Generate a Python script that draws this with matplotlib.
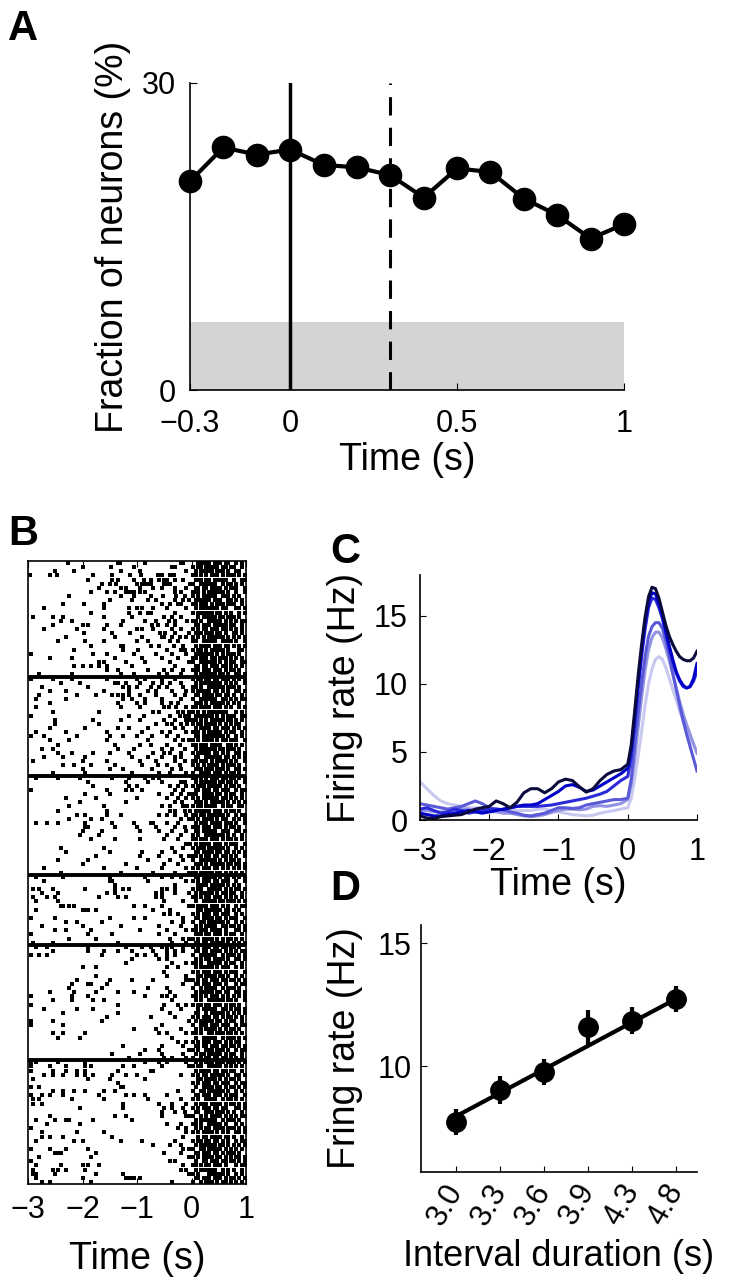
import matplotlib
matplotlib.use("Agg")
import matplotlib.pyplot as plt
import numpy as np

plt.rcParams['font.family'] = ['Liberation Sans', 'DejaVu Sans']
plt.rcParams['xtick.direction'] = 'in'
plt.rcParams['ytick.direction'] = 'in'
plt.rcParams['axes.linewidth'] = 1.2

# ---------------- data ----------------
# A: fraction of neurons over time
a_time = [-0.3, -0.2, -0.1, 0.0, 0.1, 0.2, 0.3, 0.4, 0.5, 0.6, 0.7, 0.8, 0.9, 1.0]
a_frac = [20.4, 23.7, 23.0, 23.5, 22.0, 21.75, 21.0, 18.8, 21.65, 21.3, 18.7, 17.1, 14.8, 16.2]
a_chance = 6.6

# B: raster, one string per trial: "spike times before 0 | 50 ms bins from 0 to 1 s"
block1 = [
    "-2.27 -1.35 -1.31 -0.85 -0.19 -0.15|..###|##.##|#.##.|.#.#.",
    "-2.0 -1.48 -1.05 -0.35 -0.3|#.##.|#####|.##.#|#..#.",
    "-2.5 -2.15 -1.3 -0.95 -0.1|.#.##|###.#|##.#.|.##..",
    "-2.96 -2.6 -2.47 -1.81 -1.46 -1.12 -0.93 -0.62 -0.55 -0.4 -0.32|##.#.|#.###|.#.##|#.#.#",
    "-1.9 -1.45 -1.35 -1.05 -0.88 -0.75 -0.6 -0.5 -0.45 -0.3 -0.15|.###.|##.##|###..|#..##",
    "-1.64 -1.49 -1.38 -1.0 -0.9 -0.85 -0.8 -0.75 -0.5 -0.45 -0.4 -0.02|#..##|####.|.#.##|.#.#.",
    "-1.7 -1.3 -1.2 -0.95 -0.7 -0.55 -0.3 -0.1|.##.#|#.###|#.#.#|##..#",
    "-1.85 -1.55 -1.4 -1.2 -1.15 -1.1 -1.05 -0.95 -0.85 -0.3 -0.2|###.#|.####|##.#.|.#..#",
    "-2.25 -1.3 -1.05 -0.75 -0.52 -0.28 -0.12|#.#.#|####.|.###.|#.#..",
    "-1.5 -1.1 -0.8 -0.65 -0.3 -0.15 -0.05|.####|##.##|#..##|.#.#.",
    "-2.35 -1.98 -1.6 -0.55 -0.4 -0.25 -0.2|##.##|#.#.#|##.##|#..#.",
    "-2.7 -1.6 -1.15 -1.0 -0.9 -0.7 -0.45 -0.1|.#.##|#####|.##..|.##.#",
    "-1.85 -1.15 -0.95 -0.8 -0.75 -0.3|#.###|###.#|#.#.#|..#.#",
    "-2.9 -2.55 -2.35 -1.6 -1.1 -0.5 -0.35 -0.2|..#.#|####.|##.##|#.#..",
    "-2.4 -2.2 -1.25 -0.85 -0.65 -0.42 -0.3 -0.08|##.#.|.####|#.#.#|.#.##",
    "-2.55 -2.0 -1.9 -1.55 -1.3 -0.72 -0.62 -0.45 -0.3|.##.#|##.##|###.#|#..#.",
    "-2.7 -2.1 -1.6 -1.0 -0.9 -0.7 -0.35 -0.2|#.#.#|#.###|.##.#|.#.#.",
    "-1.98 -1.45 -1.12 -0.58 -0.48 -0.3 -0.05|.###.|###.#|#.#..|##.#.",
    "-2.3 -1.4 -0.9 -0.55 -0.5 -0.35 -0.22 -0.1|#.#.#|.####|##.#.|#.#.#",
    "-2.45 -1.95 -1.6 -1.0 -0.8 -0.4 -0.25|##..#|####.|.####|.#..#",
    "-1.85 -1.3 -1.25 -0.75 -0.6 -0.32 -0.15|.#.##|##.##|#.##.|#.#.#",
    "-2.15 -1.25 -0.98 -0.45 -0.2 -0.12|#.##.|#.###|##.#.|..##.",
    "-2.95 -1.8 -1.55 -1.05 -0.65 -0.35 -0.1|.####|###.#|.#.##|#.#..",
    "-2.6 -2.2 -1.4 -0.9 -0.55 -0.25|##.##|#.##.|###.#|.#.#.",
    "-1.7 -1.6 -1.2 -0.85 -0.4 -0.05|#..##|####.|#.#.#|#..##",
    "-2.15 -2.0 -1.85 -1.7 -1.55 -1.1 -0.3|.##.#|#.###|.##.#|.#.#.",
    "-1.55 -1.35 -0.8 -0.5 -0.35 -0.15|###.#|##.##|#.#.#|#.#..",
    "-2.8 -2.2 -1.3 -1.05 -0.6 -0.45 -0.2|.#.##|####.|##.#.|.##.#",
]
block2 = [
    "-2.95 -2.55 -2.2 -1.55 -1.0 -0.85 -0.55 -0.3|#.##.|##.##|.###.|#.#.#",
    "-2.4 -2.05 -1.4 -1.35 -1.2 -0.95 -0.7 -0.55 -0.4 -0.2|.#.##|#####|#.#.#|.#..#",
    "-2.75 -1.9 -1.25 -1.15 -1.0 -0.75 -0.6 -0.45 -0.15|##.#.|.####|##.##|#.#..",
    "-2.6 -2.3 -1.6 -1.15 -0.8 -0.65 -0.35 -0.1|#.###|##.##|.#.#.|.##.#",
    "-2.8 -2.1 -1.75 -1.45 -1.35 -1.25 -1.15 -0.95 -0.65 -0.3 -0.12|.##.#|###.#|#.##.|#..#.",
    "-2.85 -2.3 -1.25 -1.1 -0.85 -0.55 -0.2|#..##|####.|.##.#|.#.##",
    "-2.6 -1.35 -1.0 -0.85 -0.55 -0.38 -0.25|.###.|#.###|##.#.|#.#..",
    "-2.85 -1.3 -0.95 -0.5 -0.42 -0.28 -0.1|##.##|##.##|#.#.#|..#.#",
    "-2.55 -1.7 -0.7 -0.6 -0.25 -0.15 -0.05|#.#.#|.####|###..|.#.#.",
    "-2.95 -1.15 -0.88 -0.4 -0.22 -0.12 -0.04|.####|###.#|.#.##|#..##",
    "-2.5 -1.8 -1.3 -0.95 -0.5 -0.3 -0.1 -0.02|##.#.|#.###|##.##|.#.#.",
    "-2.5 -1.7 -0.65 -0.45 -0.35 -0.2 -0.08|#.##.|####.|#.#.#|.##..",
    "-2.6 -1.95 -1.35 -1.15 -0.8 -0.3 -0.15|.#.##|##.##|.###.|#.#.#",
    "-2.85 -2.3 -1.55 -0.9 -0.55 -0.4 -0.1|###.#|.####|#.#.#|#..#.",
    "-2.95 -2.7 -2.1 -1.5 -1.25 -1.0 -0.72 -0.45 -0.25|.##.#|#####|##.#.|.#.#.",
    "-2.6 -2.25 -1.55 -0.8 -0.3 -0.15 -0.05|#.#.#|###.#|.##.#|##..#",
    "-2.45 -1.4 -0.95 -0.75 -0.45 -0.22|##.##|#.###|#..##|.#.#.",
    "-2.75 -2.55 -1.35 -1.05 -0.55 -0.35 -0.12|.#.##|####.|##.##|#.#..",
    "-2.45 -2.2 -1.8 -1.5 -1.15 -0.7 -0.5 -0.4 -0.2|#.###|##.##|.#.#.|.##.#",
    "-2.7 -2.35 -1.95 -1.1 -0.8 -0.55 -0.3 -0.2|.##..|#####|#.##.|#.#.#",
    "-2.9 -2.0 -1.55 -0.95 -0.65 -0.3 -0.12|##.##|#.#.#|###.#|.#..#",
    "-2.35 -2.15 -1.85 -1.4 -0.9 -0.62 -0.45 -0.22|#.#.#|.####|.#.##|#.#..",
    "-2.0 -1.5 -1.25 -0.72 -0.35 -0.2|.###.|###.#|##.#.|.##.#",
    "-2.55 -1.95 -1.1 -0.6 -0.4 -0.1|#..##|##.##|#.#.#|#.#..",
]
block3 = [
    "-2.85 -2.45 -2.05 -1.45 -1.15 -0.85 -0.7 -0.6|##.#.|#.###|.##.#|#.#.#",
    "-1.9 -1.2 -0.8 -0.55 -0.2 -0.12|.#.##|####.|##.##|.#..#",
    "-1.8 -1.15 -1.0 -0.4 -0.25 -0.1|#.###|.####|#.#.#|#.#..",
    "-2.95 -1.55 -1.2 -1.1 -0.9 -0.3 -0.15|.##.#|##.##|.###.|.#.##",
    "-1.95 -1.5 -0.6 -0.35 -0.2 -0.05|##..#|###.#|#.#.#|#..#.",
    "-2.3 -1.75 -1.0 -0.45 -0.25 -0.1|#.#.#|#####|.##.#|.#.#.",
    "-2.05 -1.2 -0.3 -0.18|.###.|#.###|##.#.|#.#.#",
    "-2.25 -1.6 -0.55 -0.4 -0.15 -0.08|#.##.|####.|.#.##|..##.",
    "-2.45 -1.55 -0.4 -0.3 -0.12 -0.02|.####|##.##|#.#.#|#.#..",
    "-2.1 -1.95 -1.55 -1.3 -0.6 -0.45 -0.3 -0.1|##.##|.####|##.#.|.#.##",
    "-2.25 -1.85 -1.65 -0.2 -0.05|#.#.#|###.#|.##..|#.#.#",
    "-2.85 -2.65 -2.45 -1.95 -1.45 -1.05 -0.75 -0.7 -0.45 -0.25|.#.##|#.###|#.###|.#..#",
    "-1.95 -1.9 -1.4 -1.0 -0.65 -0.3 -0.12|###.#|##.##|#.#.#|#.#..",
    "-2.0 -1.65 -0.95 -0.6 -0.35 -0.1|.##.#|####.|.###.|.##.#",
    "-2.05 -1.7 -0.45 -0.2|#.#..|#####|##.#.|#..#.",
    "-1.85 -1.4 -0.95 -0.5 -0.25|##.##|#.###|.#.##|.#.#.",
    "-0.1 -0.02|.#.##|##.##|#.#.#|##..#",
    "-2.4 -1.6 -0.35 -0.15|#.###|.####|##.#.|.#.#.",
    "-2.3 -1.5 -0.9 -0.55 -0.3|.##.#|###.#|#.##.|#.#.#",
    "-1.75 -0.95 -0.6 -0.2 -0.05|##.#.|##.##|.##.#|.#..#",
    "-2.45 -1.9 -0.8 -0.4 -0.15|#..##|####.|#.#.#|#.#..",
    "-2.0 -1.2 -0.5 -0.25|.###.|#.###|##.##|.##.#",
    "-2.7 -1.6 -1.0 -0.55 -0.1|#.#.#|##.##|.#.#.|#.#.#",
    "-2.4 -1.3 -0.7 -0.3 -0.05|##.##|###.#|#.#.#|.#.#.",
]
block4 = [
    "-2.85 -2.35 -1.5 -0.85 -0.55 -0.35 -0.2|.##.#|####.|#.##.|#.#.#",
    "-2.7 -1.5 -1.45 -0.8 -0.1|#.#.#|##.##|.###.|.#..#",
    "-1.4 -0.3|..###|#.###|##.#.|#.#..",
    "-2.9 -2.8 -2.55 -1.95 -1.4 -1.25 -1.15 -0.55 -0.45 -0.3|#.##.|.####|#.#.#|.##.#",
    "-2.75 -2.45 -1.55 -1.4 -0.65 -0.55 -0.3 -0.05|.#.##|###.#|.##.#|#..#.",
    "-2.9 -2.65 -2.5 -1.7 -1.35 -1.2 -0.65 -0.55|##.#.|##.##|#.#.#|.#.#.",
    "-2.85 -2.45 -0.5 -0.15|.#..#|####.|##.##|#.#.#",
    "-2.4 -2.35 -2.25 -2.15 -1.05 -0.85 -0.55 -0.05|#.###|#.###|.#.#.|.#.##",
    "-2.85 -2.0 -1.95 -1.9 -1.75 -0.7 -0.4|..##.|#####|#.##.|#.#..",
    "-0.5 -0.4 -0.25|#.#.#|##.##|.###.|.#.#.",
    "-2.95 -2.5 -1.5 -1.05 -0.85 -0.15|.##.#|###.#|#.#.#|##..#",
    "-2.3 -2.1 -1.65 -0.35 -0.15|#..##|.####|##.#.|.#.#.",
    "-2.75 -2.0 -1.3 -0.6 -0.2|.#.#.|####.|.##.#|#.#.#",
    "-2.5 -2.3 -1.85 -0.95 -0.45 -0.1|##.##|#.###|#.#..|.##.#",
    "-2.95 -1.9 -1.45 -0.6 -0.3|.###.|##.##|#.#.#|#..#.",
    "-2.25 -1.75 -0.4 -0.15 -0.05|#.#.#|###.#|.#.##|.#.#.",
    "-2.9 -2.55 -1.35 -0.35 -0.1|.##.#|#.###|##.#.|#.#.#",
]
block5 = [
    "-2.85 -2.65 -1.9 -1.2 -0.9 -0.75 -0.55 -0.45 -0.35 -0.15|#.#.#|##.##|.##.#|#.#..",
    "-2.55 -1.9 -1.6 -1.35 -1.1 -0.7 -0.45 -0.3 -0.15|.##.#|#.###|#.#.#|.#.##",
    "-2.95 -2.8 -2.65 -1.65 -1.0 -0.85 -0.65 -0.45 -0.3|#..##|####.|.#.##|#.#.#",
    "-1.1 -0.6 -0.45|.#.#.|##.##|##.#.|.##.#",
    "-1.2 -0.35 -0.1|##.#.|.####|#.#.#|#..#.",
    "-2.0 -1.75 -0.45 -0.25|.#.##|###.#|.###.|.#.#.",
    "-0.5|#.#.#|##.##|#.#.#|##..#",
    "-1.75 -0.45 -0.1|..##.|####.|##.#.|.#.#.",
    "-2.1 -1.5 -1.1 -0.7 -0.1 -0.05|#.#.#|#.###|.##.#|#.#.#",
    "-2.2 -1.9 -1.85 -1.55 -0.15|.##.#|##.##|#.#..|.#.##",
    "-2.25 -1.65 -0.8 -0.45|#..#.|####.|.#.##|#.#..",
    "-2.6 -2.15 -1.75 -1.35 -1.05 -0.4|.#.##|###.#|#.##.|.##.#",
    "-2.95 -2.2 -1.9 -0.85 -0.55 -0.45 -0.3|##.#.|#.###|.#.#.|#.#.#",
    "-2.55 -2.2 -1.8 -1.6 -0.35|.#.#.|.####|##.##|.#..#",
    "-2.95 -1.35 -0.5 -0.25 -0.1|#.##.|##.##|#.#.#|#.#..",
    "-2.7 -2.1 -1.8 -0.55 -0.2|..#.#|####.|.##.#|.##.#",
    "-2.35 -1.35 -0.4|.##..|#.###|##.#.|#.#.#",
    "-1.55 -0.75 -0.3|#.#.#|##.##|.#.##|.#.#.",
    "-2.95 -2.55 -1.65 -0.05|.#.##|###.#|#.#.#|#..#.",
    "-2.95 -2.35 -0.55|#..##|#.###|.###.|.#.##",
    "-1.05 -0.65 -0.2|.#.#.|####.|#.#.#|#.#..",
    "-2.55 -2.35 -1.95 -0.6 -0.45 -0.1|##.#.|.##.#|##.##|.#.#.",
    "-2.45 -2.05 -0.35|.#..#|####.|.#.##|#.#.#",
    "-0.25 -0.1|#.#.#|##.##|#.#.#|.##..",
    "-1.25 -0.55 -0.15|.##.#|#.###|.##.#|#.#.#",
    "-0.85 -0.6 -0.05|#.#..|###.#|##.#.|.#.##",
    "-1.45 -0.95 -0.55 -0.15|.#.##|.####|#.#.#|#..#.",
    "-1.15 -0.5 -0.35 -0.1|#..#.|##.##|.##.#|.#.#.",
]
block6 = [
    "-2.95 -2.85 -2.45 -1.95 -0.85 -0.6 -0.45 -0.1|.#.#.|###.#|##.##|#.#.#",
    "-2.95 -2.6 -2.3 -1.95 -1.85 -1.25 -1.05 -0.55 -0.05|#.##.|.####|#.#.#|.#.#.",
    "-2.95 -2.55 -2.3 -2.1 -1.95 -1.35 -0.75 -0.7|.#.##|##.##|.##.#|#..#.",
    "-2.7 -2.55 -2.35 -2.1 -1.95 -1.8 -1.45 -1.2 -1.0 -0.2|#.#.#|#.###|##.#.|.##.#",
    "-2.9 -1.9 -1.5 -0.85|..##.|####.|#.#.#|#.#..",
    "-1.35|#.#.#|##.##|.###.|.#.##",
    "-2.95 -2.8 -1.3 -1.25|.#..#|###.#|#.#.#|#.#.#",
    "-2.55 -2.35 -2.15 -1.95 -1.6 -1.4 -0.25|#..##|.####|##.#.|.#.#.",
    "-2.95 -2.75 -2.6 -2.35 -1.7 -1.2 -1.05 -0.85 -0.45|.##.#|##.##|#.#.#|##..#",
    "-2.9 -2.8 -2.2 -1.6 -0.8 -0.2|#.#..|####.|.#.##|.#.#.",
    "-2.9 -2.75 -1.25 -0.6 -0.35 -0.1|.#.##|#.###|#.#.#|#.#.#",
    "-2.05 -1.25 -0.5 -0.35 -0.15|#.#.#|##.##|.##..|.##.#",
    "-0.55 -0.3 -0.12|.##..|###.#|##.#.|#..#.",
    "-2.6 -1.4 -1.2 -0.55 -0.1 -0.05|#..#.|#.###|#.#.#|.#.##",
    "-2.85 -2.5 -2.3 -2.25 -1.8 -1.1|.#.##|####.|.#.##|#.#..",
    "-2.65 -2.05 -0.45 -0.2|##.#.|.####|#.#..|.#.#.",
    "-2.95 -0.25 -0.1|.#.#.|##.##|##.##|#.#.#",
    "-2.75 -2.1 -1.6 -0.1|#.#.#|###.#|.#.#.|.##.#",
    "-2.75 -2.6 -2.35 -1.45 -0.15|..#.#|#.###|#.##.|#..#.",
    "-2.85 -2.15 -2.0 -1.3 -0.9 -0.3|#.##.|##.##|.#.#.|.#.##",
    "-0.7 -0.4 -0.2|.#.##|####.|##.#.|#.#.#",
    "-2.95 -2.6 -2.3 -1.9 -0.15 -0.05|#..##|.####|#.#.#|.#.#.",
    "-2.5 -2.45 -2.4 -1.75 -0.5 -0.2|.##.#|##.##|.#.##|#.#..",
    "-2.8 -1.85 -0.05|#.#.#|###.#|#.#.#|.##.#",
    "-2.95 -0.4 -0.3|.#..#|#.###|.##.#|#.#.#",
    "-2.85 -2.4 -2.0 -1.9 -1.7 -0.15|##.#.|##.##|#.#..|.#.##",
    "-2.9 -2.55 -2.45 -2.3 -1.95 -0.2 -0.1|.#.##|####.|.#.#.|#..#.",
    "-2.9 -2.85 -2.5 -1.75 -1.25 -0.05|#.#..|.####|##.#.|.#.#.",
    "-2.85 -2.0 -1.2 -1.15 -1.1 -1.05 -0.95|.##.#|##.##|#.#.#|#.#.#",
    "-2.75 -2.6 -1.85 -0.35|#..#.|###.#|.##.#|.#.#.",
]
raster_blocks = [block1, block2, block3, block4, block5, block6]
bin_width = 0.05

# C: firing rate curves for the six intervals (light -> dark)
c_time = [-3.0, -2.9, -2.8, -2.7, -2.6, -2.5, -2.4, -2.3, -2.2, -2.1,
          -2.0, -1.9, -1.8, -1.7, -1.6, -1.5, -1.4, -1.3, -1.2, -1.1,
          -1.0, -0.9, -0.8, -0.7, -0.6, -0.5, -0.4, -0.3, -0.2, -0.1,
          0.0, 0.05, 0.1, 0.15, 0.2, 0.25, 0.3, 0.35, 0.4, 0.45, 0.5,
          0.55, 0.6, 0.65, 0.7, 0.75, 0.8, 0.85, 0.9, 0.95, 1.0]
rate_30 = [2.8, 2.3, 1.8, 1.4, 1.2, 1.1, 1.0, 0.9, 0.9, 0.9,
           0.8, 0.8, 0.7, 0.7, 0.7, 0.7, 0.7, 0.8, 0.8, 0.7,
           0.6, 0.5, 0.4, 0.35, 0.3, 0.35, 0.5, 0.6, 0.7, 0.8,
           0.9, 1.6, 3.0, 4.7, 6.5, 8.4, 10.0, 11.1, 11.8, 12.0, 11.8,
           11.2, 10.4, 9.6, 8.8, 8.0, 7.3, 6.6, 6.0, 5.5, 5.0]
rate_33 = [0.7, 0.7, 0.6, 0.6, 0.6, 0.7, 0.8, 0.8, 0.7, 0.6,
           0.6, 0.6, 0.5, 0.5, 0.4, 0.3, 0.25, 0.3, 0.4, 0.55,
           0.7, 0.8, 0.8, 0.75, 0.8, 1.0, 1.05, 1.0, 1.1, 1.2,
           1.5, 2.6, 4.5, 6.8, 9.0, 11.0, 12.5, 13.4, 13.8, 13.8, 13.4,
           12.6, 11.7, 10.7, 9.7, 8.7, 7.8, 7.0, 6.3, 5.6, 4.9]
rate_36 = [1.2, 1.1, 1.0, 0.9, 0.8, 0.9, 1.0, 1.2, 1.4, 1.2,
           0.9, 0.8, 0.75, 0.6, 0.5, 0.35, 0.3, 0.4, 0.5, 0.7,
           0.9, 0.9, 0.85, 0.9, 1.1, 1.2, 1.3, 1.4, 1.5, 1.5,
           1.6, 3.0, 5.5, 7.8, 10.0, 12.0, 13.5, 14.2, 14.5, 14.5, 14.1,
           13.2, 12.1, 10.8, 9.6, 8.4, 7.3, 6.3, 5.4, 4.5, 3.6]
rate_39 = [0.8, 0.9, 0.7, 0.5, 0.6, 0.8, 0.7, 0.5, 0.6, 0.7,
           0.8, 0.8, 0.75, 0.9, 1.0, 1.0, 1.0, 1.0, 1.05, 1.1,
           1.2, 1.3, 1.4, 1.5, 1.6, 1.75, 1.9, 2.1, 2.5, 2.9,
           3.2, 4.6, 7.0, 9.6, 12.0, 14.0, 15.6, 16.3, 16.2, 15.6, 14.8,
           13.7, 12.6, 11.6, 10.8, 10.2, 9.8, 9.7, 9.8, 10.2, 10.9]
rate_43 = [0.5, 0.4, 0.3, 0.3, 0.4, 0.5, 0.6, 0.7, 0.6, 0.5,
           0.6, 0.7, 0.8, 0.9, 1.0, 1.1, 1.1, 1.2, 1.5, 1.8,
           2.1, 2.5, 2.6, 2.4, 2.1, 2.2, 2.5, 2.8, 3.1, 3.4,
           3.8, 5.2, 7.5, 10.1, 12.5, 14.5, 16.0, 16.7, 16.6, 15.9, 15.0,
           13.9, 12.8, 11.8, 10.9, 10.3, 9.9, 9.7, 9.8, 10.4, 11.5]
rate_48 = [0.3, 0.15, 0.1, 0.25, 0.3, 0.35, 0.4, 0.6, 0.8, 0.9,
           1.0, 1.4, 1.2, 0.9, 1.3, 2.0, 2.3, 2.3, 2.0, 2.3,
           2.8, 3.0, 2.9, 2.45, 2.05, 2.3, 2.9, 3.35, 3.6, 3.7,
           4.1, 5.5, 8.0, 10.6, 12.9, 14.9, 16.4, 17.1, 17.0, 16.3, 15.3,
           14.3, 13.5, 12.9, 12.4, 12.0, 11.8, 11.7, 11.7, 11.9, 12.4]
c_rates = [rate_30, rate_33, rate_36, rate_39, rate_43, rate_48]
c_colors = ['#c8c8f0', '#9393e4', '#5a5ad8', '#2a2ad8', '#0000c8', '#0a0a3c']

# D: firing rate vs interval duration
d_labels = ['3.0', '3.3', '3.6', '3.9', '4.3', '4.8']
d_rate = [7.74, 9.05, 9.77, 11.58, 11.86, 12.73]
d_err = [0.53, 0.57, 0.54, 0.72, 0.54, 0.54]
d_fit = [7.97, 12.75]

# ---------------- figure ----------------
fig = plt.figure(figsize=(7.35, 12.8), dpi=100)
W, H = 735, 1280


def px_axes(left, top, right, bottom):
    return fig.add_axes([left / W, 1 - bottom / H, (right - left) / W, (bottom - top) / H])


lab = 27
tick = 22

# ---- A ----
axA = px_axes(190, 83, 624, 390)
axA.fill_between([-0.3, 1.0], 0, a_chance, color='#d4d4d4', lw=0)
axA.plot([0, 0], [0, 30], color='black', lw=2.5)
axA.plot([0.3, 0.3], [0, 30], color='black', lw=2.2, dashes=(6, 4))
axA.plot(a_time, a_frac, '-o', color='black', lw=3, ms=16, clip_on=False, zorder=5)
axA.set_xlim(-0.3, 1.0)
axA.set_ylim(0, 30)
axA.set_xticks([-0.3, 0, 0.5, 1])
axA.set_xticklabels(['\u22120.3', '0', '0.5', '1'])
axA.set_yticks([0, 30])
axA.tick_params(labelsize=tick, length=5)
axA.tick_params(axis='x', pad=14)
axA.tick_params(axis='y', pad=10)
axA.spines[['top', 'right']].set_visible(False)
axA.set_xlabel('Time (s)', fontsize=lab)
axA.set_ylabel('Fraction of neurons (%)', fontsize=lab)
axA.xaxis.set_label_coords(0.5, -0.17)
axA.yaxis.set_label_coords(-0.135, 0.5)

# ---- B ----
axB = px_axes(28, 561, 246, 1184)
row = 0
sep = []
for block in raster_blocks:
    for trial in block:
        pre, post = trial.split('|', 1)
        times = [float(v) for v in pre.split()]
        bins = post.replace('|', '')
        times += [k * bin_width + bin_width / 2 for k, c in enumerate(bins) if c == '#']
        axB.scatter(times, [row + 0.5] * len(times), marker='s', s=6.5, color='black', lw=0)
        row += 1
    sep.append(row)
for y in sep[:-1]:
    axB.axhline(y, color='black', lw=2.8)
axB.set_xlim(-3, 1)
axB.set_ylim(row, 0)
axB.set_yticks([])
axB.set_xticks([-3, -2, -1, 0, 1])
axB.set_xticklabels(['\u22123', '\u22122', '\u22121', '0', '1'])
axB.tick_params(labelsize=tick, length=4, top=True, pad=8)
axB.set_xlabel('Time (s)', fontsize=lab)
axB.xaxis.set_label_coords(0.5, -0.092)

# ---- C ----
axC = px_axes(420, 575, 697, 820)
for r, col in zip(c_rates, c_colors):
    axC.plot(c_time, r, color=col, lw=2.2)
axC.set_xlim(-3, 1)
axC.set_ylim(0, 18)
axC.set_xticks([-3, -2, -1, 0, 1])
axC.set_xticklabels(['\u22123', '\u22122', '\u22121', '0', '1'])
axC.set_yticks([0, 5, 10, 15])
axC.tick_params(labelsize=tick, length=4)
axC.tick_params(axis='x', pad=12)
axC.tick_params(axis='y', pad=9)
axC.spines[['top', 'right']].set_visible(False)
axC.set_xlabel('Time (s)', fontsize=lab)
axC.set_ylabel('Firing rate (Hz)', fontsize=lab)
axC.xaxis.set_label_coords(0.5, -0.19)
axC.yaxis.set_label_coords(-0.205, 0.5)

# ---- D ----
axD = px_axes(421, 925, 697, 1172)
xd = np.arange(1, len(d_rate) + 1)
axD.plot([xd[0], xd[-1]], d_fit, color='black', lw=3)
axD.errorbar(xd, d_rate, yerr=d_err, fmt='o', color='black', ms=14, elinewidth=3, capsize=0)
axD.set_xlim(0.2, 6.47)
axD.set_ylim(5.7, 15.75)
axD.set_xticks(xd)
axD.set_xticklabels(d_labels, rotation=60, ha='right', va='center', rotation_mode='anchor')
axD.set_yticks([10, 15])
axD.tick_params(labelsize=tick, length=4)
axD.tick_params(axis='x', pad=10)
axD.tick_params(axis='y', pad=7)
axD.spines[['top', 'right']].set_visible(False)
axD.set_xlabel('Interval duration (s)', fontsize=lab - 1)
axD.set_ylabel('Fring rate (Hz)', fontsize=lab)
axD.xaxis.set_label_coords(0.5, -0.27)
axD.yaxis.set_label_coords(-0.21, 0.5)

# panel letters
for letter, (x, y) in zip('ABCD', [(8, 40), (8, 545), (330, 563), (330, 900)]):
    fig.text(x / W, 1 - y / H, letter, fontsize=30, fontweight='bold', ha='left', va='baseline')

fig.savefig('out.png', dpi=100)
